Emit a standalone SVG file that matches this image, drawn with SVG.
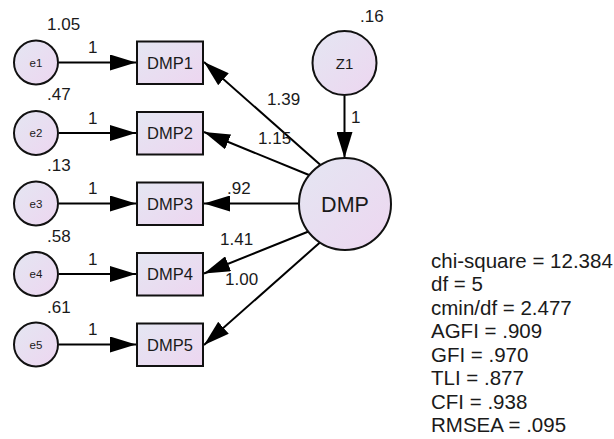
<svg xmlns="http://www.w3.org/2000/svg" width="614" height="439" viewBox="0 0 614 439">
<defs>
<linearGradient id="fill" x1="0" y1="0" x2="1" y2="1">
<stop offset="0" stop-color="#e4e6f2"/>
<stop offset="1" stop-color="#edd6f0"/>
</linearGradient>
<marker id="arr" markerUnits="userSpaceOnUse" markerWidth="26" markerHeight="16" refX="26" refY="8" orient="auto">
<path d="M0,0 L26,8 L0,16 z" fill="#000"/>
</marker>
<style>
.node{fill:url(#fill);stroke:#111;stroke-width:2}
.edge{stroke:#000;stroke-width:2;fill:none;marker-end:url(#arr)}
text{font-family:"Liberation Sans",Arial,sans-serif;fill:#1a1a1a}
.lbl{font-size:17px}
.obs{font-size:16.5px;text-anchor:middle}
.err{font-size:11.5px;text-anchor:middle}
.stat{font-size:20.5px}
</style>
</defs>
<rect width="614" height="439" fill="#fff"/>

<g id="connectors">
<line class="edge" x1="59" y1="62.5" x2="136" y2="62.5"/>
<line class="edge" x1="59" y1="133" x2="136" y2="133"/>
<line class="edge" x1="59" y1="203.5" x2="136" y2="203.5"/>
<line class="edge" x1="59" y1="274" x2="136" y2="274"/>
<line class="edge" x1="59" y1="344.5" x2="136" y2="344.5"/>
<line class="edge" x1="344.5" y1="96" x2="344.5" y2="158"/>
<line class="edge" x1="320.5" y1="165" x2="204" y2="62"/>
<line class="edge" x1="309" y1="175" x2="204" y2="132"/>
<line class="edge" x1="299" y1="203.5" x2="204" y2="203.5"/>
<line class="edge" x1="308.5" y1="231.5" x2="204" y2="273.5"/>
<line class="edge" x1="320.5" y1="242" x2="204" y2="345"/>
<text class="lbl" x="88" y="53">1</text>
<text class="lbl" x="88" y="123.5">1</text>
<text class="lbl" x="88" y="194">1</text>
<text class="lbl" x="88" y="264.5">1</text>
<text class="lbl" x="88" y="335">1</text>
<text class="lbl" x="351" y="123">1</text>
<text class="lbl" x="267" y="104.5">1.39</text>
<text class="lbl" x="258" y="144">1.15</text>
<text class="lbl" x="227" y="194">.92</text>
<text class="lbl" x="220" y="244.5">1.41</text>
<text class="lbl" x="225" y="285">1.00</text>
</g>

<g id="e1"><circle class="node" cx="36" cy="62.5" r="22"/><text class="err" x="36" y="66.5">e1</text><text class="lbl" x="47" y="29.5">1.05</text></g>
<g id="e2"><circle class="node" cx="36" cy="133" r="22"/><text class="err" x="36" y="137">e2</text><text class="lbl" x="47" y="100">.47</text></g>
<g id="e3"><circle class="node" cx="36" cy="203.5" r="22"/><text class="err" x="36" y="207.5">e3</text><text class="lbl" x="47" y="171">.13</text></g>
<g id="e4"><circle class="node" cx="36" cy="274" r="22"/><text class="err" x="36" y="278">e4</text><text class="lbl" x="47" y="241.5">.58</text></g>
<g id="e5"><circle class="node" cx="36" cy="344.5" r="22"/><text class="err" x="36" y="348.5">e5</text><text class="lbl" x="47" y="313">.61</text></g>

<g id="DMP1"><rect class="node" x="137" y="41.5" width="66" height="42.5"/><text class="obs" x="170" y="68.5">DMP1</text></g>
<g id="DMP2"><rect class="node" x="137" y="112" width="66" height="42.5"/><text class="obs" x="170" y="139">DMP2</text></g>
<g id="DMP3"><rect class="node" x="137" y="182.5" width="66" height="42.5"/><text class="obs" x="170" y="209.5">DMP3</text></g>
<g id="DMP4"><rect class="node" x="137" y="253" width="66" height="42.5"/><text class="obs" x="170" y="280">DMP4</text></g>
<g id="DMP5"><rect class="node" x="137" y="323.5" width="66" height="42.5"/><text class="obs" x="170" y="350.5">DMP5</text></g>

<g id="Z1"><circle class="node" cx="344.5" cy="63" r="32"/><text x="344.5" y="68.5" font-size="15" text-anchor="middle">Z1</text><text class="lbl" x="360" y="22">.16</text></g>
<g id="DMP"><circle class="node" cx="345" cy="204" r="46"/><text x="345" y="211.5" font-size="21.5" text-anchor="middle">DMP</text></g>

<g id="fit">
<text class="stat" x="431" y="267.5">chi-square = 12.384</text>
<text class="stat" x="431" y="291">df = 5</text>
<text class="stat" x="431" y="314.5">cmin/df = 2.477</text>
<text class="stat" x="431" y="338">AGFI = .909</text>
<text class="stat" x="431" y="361.5">GFI = .970</text>
<text class="stat" x="431" y="385">TLI = .877</text>
<text class="stat" x="431" y="408.5">CFI = .938</text>
<text class="stat" x="431" y="432">RMSEA = .095</text>
</g>
</svg>
